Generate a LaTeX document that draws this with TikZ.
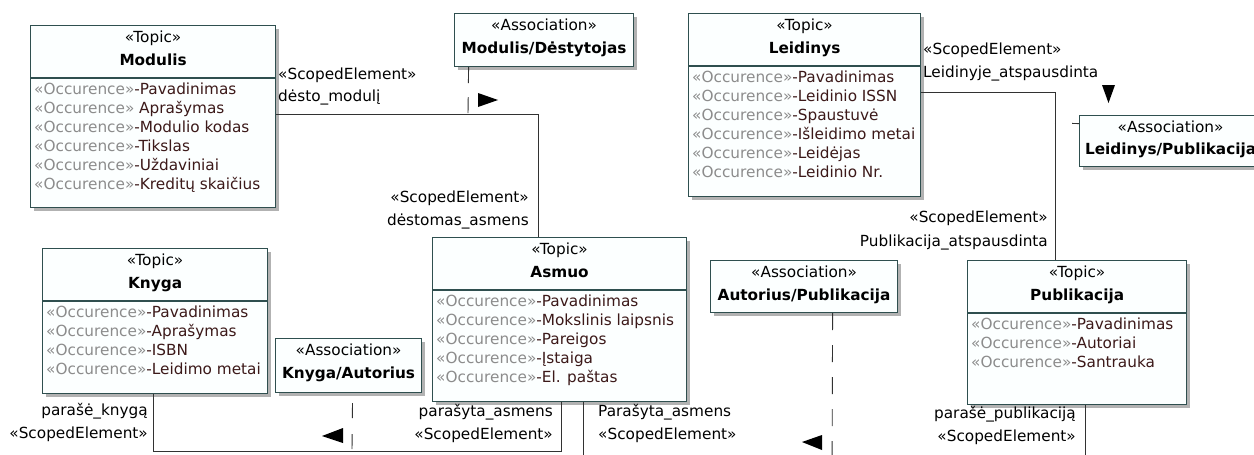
\documentclass[tikz,border=0pt]{standalone}
\usepackage{fontspec}
\setmainfont{DejaVu Sans}
\usetikzlibrary{shadows}

\definecolor{boxedge}{RGB}{47,79,79}
\definecolor{boxfill}{RGB}{252,255,255}
\definecolor{stereogray}{RGB}{140,140,140}
\definecolor{occtext}{RGB}{60,25,25}
\definecolor{linegray}{RGB}{50,50,50}

\newcommand{\occst}{{\color{stereogray}«Occurence»}}

\tikzset{
  umlbox/.style={draw=boxedge, fill=boxfill, line width=1.2pt, anchor=north west, inner sep=0pt,
    drop shadow={shadow xshift=3pt, shadow yshift=-3pt, fill=black!30, opacity=1}},
  txt/.style={inner sep=0pt, font=\fontsize{15.3}{18}\selectfont},
  occ/.style={txt, anchor=mid west, text=occtext},
  boxtitle/.style={txt, font=\fontsize{15.3}{18}\selectfont\bfseries},
  divider/.style={draw=boxedge, line width=1.2pt},
  link/.style={draw=linegray, line width=0.9pt},
  assoclink/.style={link, dash pattern=on 16pt off 14pt},
  dirmark/.style={fill=black},
}

\begin{document}
\begin{tikzpicture}[x=1pt, y=-1pt]
\clip (0,0) rectangle (1254,455);
\fill[white] (0,0) rectangle (1254,455);

% topics
\node[umlbox, minimum width=245pt, minimum height=182pt] (modulis) at (30,25) {};
\node[txt, anchor=mid] at ([yshift=-15pt]modulis.north) {«Topic»};
\node[boxtitle, anchor=mid] at ([yshift=-37.5pt]modulis.north) {Modulis};
\draw[divider] ([yshift=-53pt]modulis.north west) -- ([yshift=-53pt]modulis.north east);
\foreach \attr [count=\i from 0] in {-Pavadinimas, {\ Aprašymas}, -Modulio kodas, -Tikslas, -Uždaviniai, -Kreditų skaičius}
  \node[occ] at ([xshift=4pt, yshift={-67pt-19pt*\i}]modulis.north west) {\occst\attr};

\node[umlbox, minimum width=232pt, minimum height=183pt] (leidinys) at (688,13) {};
\node[txt, anchor=mid] at ([yshift=-15pt]leidinys.north) {«Topic»};
\node[boxtitle, anchor=mid] at ([yshift=-37.5pt]leidinys.north) {Leidinys};
\draw[divider] ([yshift=-53pt]leidinys.north west) -- ([yshift=-53pt]leidinys.north east);
\foreach \attr [count=\i from 0] in {-Pavadinimas, -Leidinio ISSN, -Spaustuvė, -Išleidimo metai, -Leidėjas, -Leidinio Nr.}
  \node[occ] at ([xshift=4pt, yshift={-67pt-19pt*\i}]leidinys.north west) {\occst\attr};

\node[umlbox, minimum width=225pt, minimum height=145pt] (knyga) at (42,248) {};
\node[txt, anchor=mid] at ([yshift=-15pt]knyga.north) {«Topic»};
\node[boxtitle, anchor=mid] at ([yshift=-37.5pt]knyga.north) {Knyga};
\draw[divider] ([yshift=-53pt]knyga.north west) -- ([yshift=-53pt]knyga.north east);
\foreach \attr [count=\i from 0] in {-Pavadinimas, -Aprašymas, -ISBN, -Leidimo metai}
  \node[occ] at ([xshift=4pt, yshift={-67pt-19pt*\i}]knyga.north west) {\occst\attr};

\node[umlbox, minimum width=254pt, minimum height=164pt] (asmuo) at (432,237) {};
\node[txt, anchor=mid] at ([yshift=-15pt]asmuo.north) {«Topic»};
\node[boxtitle, anchor=mid] at ([yshift=-37.5pt]asmuo.north) {Asmuo};
\draw[divider] ([yshift=-53pt]asmuo.north west) -- ([yshift=-53pt]asmuo.north east);
\foreach \attr [count=\i from 0] in {-Pavadinimas, -Mokslinis laipsnis, -Pareigos, -Įstaiga, -El. paštas}
  \node[occ] at ([xshift=4pt, yshift={-67pt-19pt*\i}]asmuo.north west) {\occst\attr};

\node[umlbox, minimum width=219pt, minimum height=144pt] (publikacija) at (967,260) {};
\node[txt, anchor=mid] at ([yshift=-15pt]publikacija.north) {«Topic»};
\node[boxtitle, anchor=mid] at ([yshift=-37.5pt]publikacija.north) {Publikacija};
\draw[divider] ([yshift=-53pt]publikacija.north west) -- ([yshift=-53pt]publikacija.north east);
\foreach \attr [count=\i from 0] in {-Pavadinimas, -Autoriai, -Santrauka}
  \node[occ] at ([xshift=4pt, yshift={-67pt-19pt*\i}]publikacija.north west) {\occst\attr};

% associations
\node[umlbox, minimum width=179pt, minimum height=53pt] (mdassoc) at (454,13) {};
\node[txt, anchor=mid] at ([yshift=-15pt]mdassoc.north) {«Association»};
\node[boxtitle, anchor=mid] at ([yshift=-38pt]mdassoc.north) {Modulis/Dėstytojas};

\node[umlbox, minimum width=182pt, minimum height=51pt] (lpassoc) at (1079,115) {};
\node[txt, anchor=mid] at ([yshift=-15pt]lpassoc.north) {«Association»};
\node[boxtitle, anchor=mid] at ([yshift=-37pt]lpassoc.north) {Leidinys/Publikacija};

\node[umlbox, minimum width=146pt, minimum height=54pt] (kaassoc) at (275,338) {};
\node[txt, anchor=mid] at ([yshift=-15pt]kaassoc.north) {«Association»};
\node[boxtitle, anchor=mid] at ([yshift=-38pt]kaassoc.north) {Knyga/Autorius};

\node[umlbox, minimum width=187pt, minimum height=52pt] (apassoc) at (710,260) {};
\node[txt, anchor=mid] at ([yshift=-15pt]apassoc.north) {«Association»};
\node[boxtitle, anchor=mid] at ([yshift=-38pt]apassoc.north) {Autorius/Publikacija};

% Modulis -- Asmuo
\draw[link] ([yshift=2pt]modulis.east) -| ([xshift=-21pt]asmuo.north);
\coordinate (mdjoin) at (468,114);
\draw[assoclink] ([xshift=-75.5pt]mdassoc.south) -- (mdjoin);
\fill[dirmark] (478,93) -- (498,100) -- (478,107) -- cycle;
\node[txt, anchor=mid west] at (278,77) {«ScopedElement»};
\node[txt, anchor=mid west] at (278,99) {dėsto\_modulį};
\node[txt, anchor=mid east] at (529,200) {«ScopedElement»};
\node[txt, anchor=mid east] at (529,223) {dėstomas\_asmens};

% Leidinys -- Publikacija
\draw[link] ([yshift=12.5pt]leidinys.east) -| ([xshift=-21.5pt]publikacija.north);
\coordinate (lpjoin) at (1055,123);
\draw[link, dash pattern=on 16pt off 17pt, dash phase=9pt] ([yshift=17.5pt]lpassoc.west) -- (lpjoin);
\fill[dirmark] (1102,85) -- (1115,85) -- (1108.5,103) -- cycle;
\node[txt, anchor=mid west] at (923,52) {«ScopedElement»};
\node[txt, anchor=mid west] at (923,75) {Leidinyje\_atspausdinta};
\node[txt, anchor=mid east] at (1048,220) {«ScopedElement»};
\node[txt, anchor=mid east] at (1048,244) {Publikacija\_atspausdinta};

% Knyga -- Asmuo
\draw[link] ([xshift=-1.5pt]knyga.south) -- ++(0,57) -| ([xshift=2pt]asmuo.south);
\coordinate (kajoin) at (352,450);
\draw[link, dash pattern=on 15pt off 16pt, dash phase=21pt] ([xshift=4pt]kaassoc.south) -- (kajoin);
\fill[dirmark] (343,428) -- (322,436) -- (343,443) -- cycle;
\node[txt, anchor=mid east] at (148,413) {parašė\_knygą};
\node[txt, anchor=mid east] at (148,436) {«ScopedElement»};
\node[txt, anchor=mid east] at (553,414) {parašyta\_asmens};
\node[txt, anchor=mid east] at (553,437) {«ScopedElement»};

% Asmuo -- Publikacija
\draw[link] ([xshift=24pt]asmuo.south) -- ++(0,79) -| ([xshift=8.5pt]publikacija.south);
\coordinate (apjoin) at (832,480);
\draw[link, dash pattern=on 17pt off 15pt] ([xshift=28.5pt]apassoc.south) -- (apjoin);
\fill[dirmark] (822,435) -- (802,442) -- (822,450) -- cycle;
\node[txt, anchor=mid west] at (598,414) {Parašyta\_asmens};
\node[txt, anchor=mid west] at (598,437) {«ScopedElement»};
\node[txt, anchor=mid east] at (1076,416) {parašė\_publikaciją};
\node[txt, anchor=mid east] at (1076,439) {«ScopedElement»};
\end{tikzpicture}
\end{document}
